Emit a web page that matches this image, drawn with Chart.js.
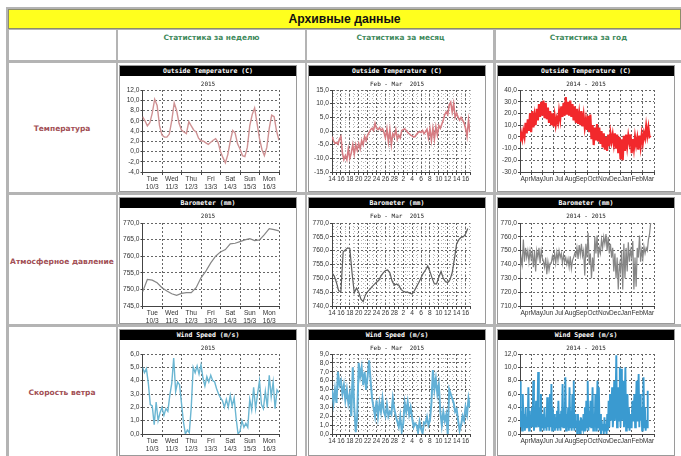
<!DOCTYPE html>
<html>
<head>
<meta charset="utf-8">
<title>Архивные данные</title>
<script src="https://cdn.jsdelivr.net/npm/chart.js@4"></script>
<style>
html, body { margin: 0; padding: 0; background: #fff; overflow: hidden; }
#page { position: relative; width: 681px; height: 456px; overflow: hidden; filter: blur(0.7px); }
.cell { position: absolute; box-sizing: border-box; border: 2px solid #b4b4b4; background: #fff; }
.head { position: absolute; left: 8px; top: 9px; width: 673px; height: 20px; box-sizing: border-box; border: 1px solid #8c8c6a; background: #ffff1e; text-align: center; font: bold 12.2px/18px "Liberation Sans", sans-serif; color: #111; }
.period, .row { position: absolute; text-align: center; font-family: "DejaVu Sans", sans-serif; font-weight: bold; white-space: nowrap; }
.period { font-size: 7.4px; color: #3f8a5c; top: 33px; }
.row { font-size: 7.5px; color: #a24f55; left: 8px; width: 108px; }
.panel { position: absolute; box-sizing: border-box; border: 1px solid #9a9a9a; background: #fff; }
.band { position: absolute; left: 0; right: 0; top: 0; height: 10px; background: #000; color: #fff; text-align: center; font: bold 6.5px/10px "DejaVu Sans Mono", monospace; }
.sub { position: absolute; left: 0; right: 0; top: 14px; text-align: center; font: 6px/8px "DejaVu Sans Mono", monospace; color: #222; white-space: pre; }
canvas { position: absolute; left: 0; top: 0; }
</style>
</head>
<body>
<div id="page"></div>
<script>
// --- подписи ---
const pageTitle = 'Архивные данные';
const periodTitles = ['Статистика за неделю', 'Статистика за месяц', 'Статистика за год'];
const rowTitles = ['Температура', 'Атмосферное давление', 'Скорость ветра'];
const weekDays = [['Tue', '10/3'], ['Wed', '11/3'], ['Thu', '12/3'], ['Fri', '13/3'], ['Sat', '14/3'], ['Sun', '15/3'], ['Mon', '16/3']];
const monthDays = ['14', '16', '18', '20', '22', '24', '26', '28', '2', '4', '6', '8', '10', '12', '14', '16'];
const yearMonths = ['Apr', 'May', 'Jun', 'Jul', 'Aug', 'Sep', 'Oct', 'Nov', 'Dec', 'Jan', 'Feb', 'Mar'];

// --- данные ---
const tempWeek = [6.8, 6.0, 5.0, 5.6, 7.5, 10.2, 9.0, 5.0, 3.2, 2.8, 2.8, 3.4, 6.0, 9.5, 8.0, 5.5, 4.2, 3.8, 3.5, 5.8, 5.0, 4.2, 3.8, 2.6, 2.1, 2.0, 1.7, 1.4, 1.8, 2.2, 2.5, 1.8, 0.0, -1.2, -2.2, -0.6, 2.0, 4.1, 3.6, 1.5, 0.5, -0.8, -1.0, 0.8, 5.0, 7.2, 8.5, 5.5, 2.5, 0.4, -0.8, 0.8, 4.5, 7.1, 6.8, 4.0, 2.2];
const tempMonth = [-2.0, -3.5, -4.5, -4.2, -4.8, -3.0, -2.0, -8.0, -10.5, -9.0, -10.5, -6.5, -10.0, -8.0, -5.0, -8.5, -5.0, -7.0, -4.5, -6.5, -3.5, -5.0, -2.0, -3.5, -1.5, -0.5, 0.5, 1.0, 0.2, 2.8, 1.0, 0.5, 1.2, 0.2, 0.8, -0.5, -2.5, 0.8, -4.0, 0.5, -5.0, -1.0, -2.0, 0.5, -3.0, -1.5, -2.5, 0.2, 0.5, 0.8, 0.2, -0.5, -1.0, -1.5, -1.8, -2.2, -2.0, -1.2, -0.6, -0.2, -0.5, 0.2, -1.0, -0.3, 0.6, -2.5, 0.8, -3.5, 1.0, -3.0, 1.5, -1.5, 2.0, 1.0, 2.5, 4.0, 6.0, 7.0, 6.0, 9.5, 10.5, 7.0, 10.0, 5.0, 6.5, 5.0, 4.0, 5.0, 4.0, 3.0, 1.0, -2.0, 4.0, -0.5, 8.0, 0.0, 7.0];
const tempYear = [-4, 3, -2, 5, 0, 12, 3, 15, 5, 20,
  4, 22, 8, 18, 10, 24, 14, 28, 17, 30,
  18, 31, 16, 29, 15, 25, 12, 22, 10, 20,
  9, 18, 10, 16, 12, 22, 15, 26, 17, 29,
  18, 34, 19, 30, 18, 31, 17, 28, 14, 26,
  12, 24, 11, 20, 10, 22, 9, 18, 8, 15,
  6, 18, 4, 19, -2, 10, -7, 8, -3, 11,
  -4, 8, -6, 5, -9, 3, -11, 0, -12, 2,
  -8, 3, -4, 2, -6, 3, -10, 2, -14, 0,
  -19, -2, -20, 1, -12, 2, -8, 1, -5, 2,
  -14, -2, -10, 0, -7, -1, -11, 1, -8, 2,
  -5, 3, -1, 9, 1, 8, 0, 1];
const baroWeek = [749.2, 753.0, 752.8, 752.0, 750.5, 749.5, 748.7, 748.2, 748.8, 749.0, 749.0, 750.5, 753.5, 755.5, 758.0, 760.0, 761.3, 762.0, 763.7, 763.9, 764.4, 764.9, 765.3, 764.7, 764.9, 766.5, 768.3, 768.0, 767.6];
const baroMonth = [752, 750.8, 748.5, 745.5, 745.2, 759.5, 760.3, 761, 760.8, 752, 744.8, 746.5, 745, 742.5, 741.6, 744, 745.2, 746, 747, 747.8, 748.6, 749.3, 750.8, 752, 752.8, 753, 752, 749, 747.5, 748, 747.5, 746, 745.3, 745, 745, 744.6, 744.3, 745.5, 747, 748.5, 750.2, 751.8, 753, 754.5, 752.5, 750, 748, 748, 750.5, 752.5, 750, 748.8, 748.5, 749.5, 752, 757, 762.5, 764, 764.8, 765, 766, 768];
const baroYear = [730, 745, 740, 758, 742, 752, 745, 750, 742, 750,
  744, 749, 738, 750, 735, 750, 745, 752, 741, 750,
  745, 742, 738, 745, 733, 742, 736, 741, 741, 746,
  742, 748, 741, 749, 743, 750, 745, 748, 741, 747,
  742, 745, 740, 744, 738, 746, 737, 743, 745, 748,
  746, 752, 744, 754, 747, 755, 746, 750, 732, 755,
  745, 763, 740, 748, 730, 745, 735, 760, 748, 761,
  745, 752, 748, 758, 752, 760, 755, 762, 750, 760,
  748, 755, 745, 752, 735, 748, 730, 745, 722, 740,
  735, 750, 722, 755, 730, 752, 735, 756, 742, 750,
  745, 757, 722, 745, 724, 752, 745, 761, 742, 750,
  744, 753, 748, 752, 750, 758, 762, 770];
const windWeek = [5.0, 4.6, 4.9, 3.8, 2.2, 2.1, 0.7, 2.4, 1.0, 1.6, 2.0, 1.4, 1.9, 1.7, 2.9, 3.8, 5.7, 3.2, 3.9, 3.7, 2.3, 0.9, 0.0, 0.3, 0.1, 2.0, 5.0, 4.6, 5.1, 4.5, 5.2, 4.2, 3.6, 4.3, 3.9, 4.4, 4.0, 3.9, 3.4, 3.0, 2.7, 2.5, 2.0, 2.6, 2.0, 2.9, 2.1, 2.7, 1.2, 0.0, 0.2, 1.0, 0.5, 0.8, 0.5, 2.6, 1.8, 3.5, 1.9, 3.0, 4.0, 2.2, 1.9, 3.2, 2.0, 4.4, 2.8, 3.9, 1.9, 3.3, 3.1];
const windMonth = [5, 3.5, 5, 3.5, 7, 5.5, 6, 4.5, 5.5, 3.8, 5, 3.5, 4.5, 2, 7.5, 3, 0.2, 2, 8, 6.5, 7.5, 5.5, 7, 5, 6.5, 8.3, 6, 4, 3, 2, 3.8, 2, 3.5, 2.5, 4, 2.5, 2, 3.3, 2, 2.5, 2.2, 4, 2.8, 2, 1.4, 0.8, 2, 0.3, 1.2, 3.5, 2.5, 3.6, 2.2, 3, 1.8, 0.8, 1.2, 1, 0.2, 1.4, 0.6, 0.1, 1.3, 1.2, 1.9, 1, 1.5, 3.5, 7.2, 5, 6.2, 4.5, 5.5, 2.5, 1, 2.5, 1.5, 2.2, 0, 5, 4.5, 4, 3.5, 2.5, 2.8, 1.5, 0.4, 1, 2, 1.5, 3, 2.2, 4, 3];
const windYear = [7.9, 1, 3.5, 0.5, 6, 1, 3, 0.5, 4, 1, 2.5, 1, 7, 0.5, 3.5, 1,
  2, 4, 1, 8, 0.5, 3, 1, 5, 1, 3, 9.3, 1, 4, 0.5, 6, 1,
  1, 3, 0.5, 4, 1, 2.5, 0.5, 5.5, 1, 3.5, 0.5, 6, 1, 7.5, 0.5, 4,
  1, 3, 0.5, 2.5, 1, 3.5, 0.5, 5, 1, 3, 0.5, 3.5, 1, 7.5, 1, 4,
  1, 8.5, 0.5, 3, 1, 4, 0.5, 7, 1, 3.5, 0.5, 6, 1, 8, 0.5, 3,
  1, 2, 0, 3, 0.5, 2, 0, 2.5, 0.5, 1.5, 1, 3, 0.5, 4, 0.5, 5,
  1, 8, 0.5, 3.5, 1, 5, 1, 3, 7, 0.5, 3, 1, 6, 0.5, 3.5, 8,
  1, 7, 0.5, 3, 0, 2, 0.5, 1.5, 0, 2.5, 0.5, 1.5, 0, 3, 0.5, 5,
  1, 6, 2, 4, 7, 1, 3.5, 8, 2, 5, 11.8, 1, 4, 7, 2, 10,
  1, 9.8, 2, 5, 8, 1, 4, 10, 0.5, 3, 6, 1, 4, 0.5, 3, 1,
  1, 5, 2, 4, 6, 1, 3.5, 8, 2, 5, 9, 1, 6, 2, 4, 0.5,
  2, 8.5, 1, 4, 0.5, 2, 1, 6.5];

// --- раскладка страницы ---
const colX = [119, 308, 497];
const rowY = [65, 197, 329];
const plotLeft = [22.5, 23, 22];
const plotWidth = [136.5, 138, 134];
const plotTop = [25, 26, 25];
const plotHeight = [82, 83, 80];
const panelW = 178;
const panelH = 127;

const cols = {
    week: { xMax: 7, xStep: 0.5, perUnit: 8 },
    month: { xMax: 31, xStep: 1, perUnit: 3 },
    year: { xMax: 12, xStep: 0.5, perUnit: 10 }
};

const tickFont = { family: '"Liberation Sans", sans-serif', size: 6.6 };

function xLabel(kind, v) {
    if (kind === 'week') return v % 1 ? weekDays[Math.floor(v)] : '';
    if (kind === 'month') return v % 2 === 0 && v / 2 < monthDays.length ? monthDays[v / 2] : '';
    return v % 1 ? yearMonths[Math.floor(v)] : '';
}

function xIsGrid(kind, v) {
    return kind === 'month' ? true : v % 1 === 0;
}

function makeChart(parent, kind, row, cfg) {
    const canvas = document.createElement('canvas');
    canvas.width = panelW - 2;
    canvas.height = panelH - 2;
    parent.appendChild(canvas);
    const axis = cols[kind];
    const step = 1 / (cfg.perUnit || axis.perUnit);
    const points = cfg.values.map((v, i) => ({ x: i * step, y: v }));
    const colIdx = ['week', 'month', 'year'].indexOf(kind);
    const isMajorY = v => Math.abs((v - cfg.yMin) / cfg.yMajor - Math.round((v - cfg.yMin) / cfg.yMajor)) < 1e-6;
    return new Chart(canvas, {
        type: 'line',
        data: { datasets: [{ data: points, borderColor: cfg.color, borderWidth: cfg.width || 1, pointRadius: 0, tension: 0 }] },
        options: {
            responsive: false,
            animation: false,
            layout: { padding: { top: plotTop[row] - 1, right: panelW - 2 - plotLeft[colIdx] - plotWidth[colIdx], left: 0, bottom: 0 } },
            plugins: { legend: { display: false }, tooltip: { enabled: false } },
            scales: {
                x: {
                    type: 'linear',
                    min: 0,
                    max: axis.xMax,
                    afterFit: s => { s.height = panelH - 2 - plotTop[row] + 1 - plotHeight[row]; },
                    border: { color: '#444', dash: ctx => (kind === 'month' && ctx.tick && ctx.tick.value % 2 ? [1, 3] : [2, 2]) },
                    grid: {
                        tickLength: 3,
                        color: ctx => {
                            if (!xIsGrid(kind, ctx.tick.value)) return 'rgba(0,0,0,0)';
                            return kind === 'month' && ctx.tick.value % 2 ? '#b4b4b4' : '#666';
                        },
                        tickColor: ctx => (xIsGrid(kind, ctx.tick.value) ? '#444' : 'rgba(0,0,0,0)')
                    },
                    ticks: {
                        stepSize: axis.xStep,
                        autoSkip: false,
                        maxRotation: 0,
                        padding: 0,
                        font: tickFont,
                        color: '#333',
                        callback: v => xLabel(kind, v)
                    }
                },
                y: {
                    min: cfg.yMin,
                    max: cfg.yMax,
                    afterFit: s => { s.width = plotLeft[colIdx]; },
                    border: { color: '#444', dash: ctx => (ctx.tick && isMajorY(ctx.tick.value) ? [2, 2] : [1, 3]) },
                    grid: {
                        tickLength: 2,
                        color: ctx => (isMajorY(ctx.tick.value) ? '#666' : '#b4b4b4'),
                        tickColor: ctx => (isMajorY(ctx.tick.value) ? '#444' : 'rgba(0,0,0,0)')
                    },
                    ticks: {
                        stepSize: cfg.yMinor || cfg.yMajor,
                        autoSkip: false,
                        padding: 1,
                        font: tickFont,
                        color: '#333',
                        callback: v => (isMajorY(v) ? v.toFixed(1).replace('.', ',') : '')
                    }
                }
            }
        }
    });
}

// --- таблица ---
const page = document.getElementById('page');

function addCell(x, y, w, h) {
    const d = document.createElement('div');
    d.className = 'cell';
    d.style.cssText = `left:${x}px;top:${y}px;width:${w}px;height:${h}px`;
    page.appendChild(d);
}

addCell(6, 7, 680, 460);
[[7, 28, 111, 34], [116, 28, 191, 34], [305, 28, 190, 34], [494, 28, 190, 34]].forEach(c => addCell(...c));
[[61, 133], [193, 133], [325, 140]].forEach(([y, h]) => {
    addCell(7, y, 111, h);
    addCell(116, y, 191, h);
    addCell(305, y, 190, h);
    addCell(494, y, 190, h);
});

const head = document.createElement('div');
head.className = 'head';
head.textContent = pageTitle;
page.appendChild(head);

periodTitles.forEach((t, i) => {
    const d = document.createElement('div');
    d.className = 'period';
    d.style.left = [118, 307, 496][i] + 'px';
    d.style.width = [187, 187, 185][i] + 'px';
    d.textContent = t;
    page.appendChild(d);
});

rowTitles.forEach((t, i) => {
    const d = document.createElement('div');
    d.className = 'row';
    d.style.top = [124, 257, 388][i] + 'px';
    d.textContent = t;
    page.appendChild(d);
});

const temperature = '#cf9294';
const barometer = '#868686';
const wind = '#6bb6d2';

const charts = [
    { r: 0, kind: 'week', title: 'Outside Temperature (C)', sub: '2015', values: tempWeek, color: temperature, yMin: -4, yMax: 12, yMajor: 2, width: 1.4 },
    { r: 0, kind: 'month', title: 'Outside Temperature (C)', sub: 'Feb - Mar  2015', values: tempMonth, color: '#d67c82', yMin: -15, yMax: 15, yMajor: 5, yMinor: 1.25, width: 1.6 },
    { r: 0, kind: 'year', title: 'Outside Temperature (C)', sub: '2014 - 2015', values: tempYear, color: '#f2282c', yMin: -30, yMax: 40, yMajor: 10, width: 2.2 },
    { r: 1, kind: 'week', title: 'Barometer (mm)', sub: '2015', values: baroWeek, color: barometer, yMin: 745, yMax: 770, yMajor: 5, perUnit: 4, width: 1.2 },
    { r: 1, kind: 'month', title: 'Barometer (mm)', sub: 'Feb - Mar  2015', values: baroMonth, color: '#5e5e5e', yMin: 740, yMax: 770, yMajor: 5, yMinor: 1.25, perUnit: 2, width: 1.2 },
    { r: 1, kind: 'year', title: 'Barometer (mm)', sub: '2014 - 2015', values: baroYear, color: barometer, yMin: 710, yMax: 770, yMajor: 10, width: 1.2 },
    { r: 2, kind: 'week', title: 'Wind Speed (m/s)', sub: '2015', values: windWeek, color: wind, yMin: 0, yMax: 6, yMajor: 1, perUnit: 10, width: 1.4 },
    { r: 2, kind: 'month', title: 'Wind Speed (m/s)', sub: 'Feb - Mar  2015', values: windMonth, color: '#62b0d6', yMin: 0, yMax: 9, yMajor: 1, yMinor: 0.5, width: 2 },
    { r: 2, kind: 'year', title: 'Wind Speed (m/s)', sub: '2014 - 2015', values: windYear, color: '#3a9ad0', yMin: 0, yMax: 12, yMajor: 2, perUnit: 16, width: 1.9 }
];

charts.forEach(c => {
    const col = ['week', 'month', 'year'].indexOf(c.kind);
    const panel = document.createElement('div');
    panel.className = 'panel';
    panel.style.cssText = `left:${colX[col]}px;top:${rowY[c.r]}px;width:${panelW}px;height:${panelH}px`;
    page.appendChild(panel);
    makeChart(panel, c.kind, c.r, c);
    panel.insertAdjacentHTML('beforeend', `<div class="band">${c.title}</div><div class="sub">${c.sub}</div>`);
});
</script>
</body>
</html>
